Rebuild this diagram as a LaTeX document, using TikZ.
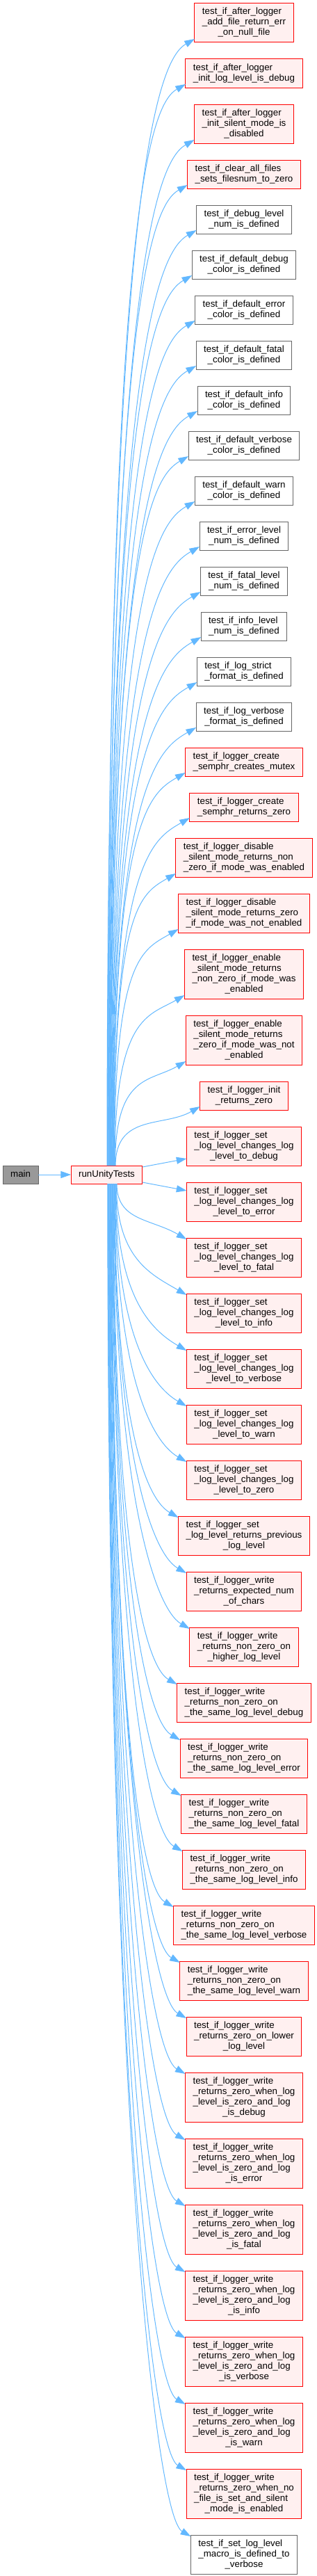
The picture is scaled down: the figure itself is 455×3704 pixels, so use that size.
\documentclass[tikz,border=0pt]{standalone}
\usepackage{fontspec}
\setmainfont{Liberation Sans}
\usepackage{xcolor}
\usetikzlibrary{arrows.meta,positioning,calc}
\definecolor{DoxyRed}{HTML}{FF0000}
\definecolor{DoxyPink}{HTML}{FFF0F0}
\definecolor{DoxyGray}{HTML}{666666}
\definecolor{DoxyMain}{HTML}{999999}
\definecolor{DoxyBlue}{HTML}{63B8FF}
% all lines left, the last one centred
\newcommand{\fnlabel}[2]{\begin{tabular}{@{}l@{}}#1\\\multicolumn{1}{@{}c@{}}{#2}\end{tabular}}

\begin{document}
\begin{tikzpicture}[
  x=0.75pt, y=0.75pt,
  node distance=18pt and 35.25pt,
  fn/.style={draw=DoxyRed, fill=DoxyPink, line width=0.75pt, inner xsep=8.25pt, inner ysep=4.125pt, outer sep=0pt, font=\fontsize{10}{11.25}\selectfont},
  fngray/.style={fn, draw=DoxyGray, fill=white},
  fnmain/.style={fn, draw=DoxyGray, fill=DoxyMain},
  call/.style={-{Triangle[length=11pt,width=7.5pt]}, draw=DoxyBlue, line width=0.75pt}
]
  \useasboundingbox (0,0) rectangle (455,-3704);
  % callees, top to bottom
  \node[fn, anchor=north] (t1) at (351,-5) {\fnlabel{test\_if\_after\_logger\\\_add\_file\_return\_err}{\_on\_null\_file}};
  \node[fn, below=of t1] (t2) {\fnlabel{test\_if\_after\_logger}{\_init\_log\_level\_is\_debug}};
  \node[fn, below=of t2] (t3) {\fnlabel{test\_if\_after\_logger\\\_init\_silent\_mode\_is}{\_disabled}};
  \node[fn, below=of t3] (t4) {\fnlabel{test\_if\_clear\_all\_files}{\_sets\_filesnum\_to\_zero}};
  \node[fngray, below=of t4] (t5) {\fnlabel{test\_if\_debug\_level}{\_num\_is\_defined}};
  \node[fngray, below=of t5] (t6) {\fnlabel{test\_if\_default\_debug}{\_color\_is\_defined}};
  \node[fngray, below=of t6] (t7) {\fnlabel{test\_if\_default\_error}{\_color\_is\_defined}};
  \node[fngray, below=of t7] (t8) {\fnlabel{test\_if\_default\_fatal}{\_color\_is\_defined}};
  \node[fngray, below=of t8] (t9) {\fnlabel{test\_if\_default\_info}{\_color\_is\_defined}};
  \node[fngray, below=of t9] (t10) {\fnlabel{test\_if\_default\_verbose}{\_color\_is\_defined}};
  \node[fngray, below=of t10] (t11) {\fnlabel{test\_if\_default\_warn}{\_color\_is\_defined}};
  \node[fngray, below=of t11] (t12) {\fnlabel{test\_if\_error\_level}{\_num\_is\_defined}};
  \node[fngray, below=of t12] (t13) {\fnlabel{test\_if\_fatal\_level}{\_num\_is\_defined}};
  \node[fngray, below=of t13] (t14) {\fnlabel{test\_if\_info\_level}{\_num\_is\_defined}};
  \node[fngray, below=of t14] (t15) {\fnlabel{test\_if\_log\_strict}{\_format\_is\_defined}};
  \node[fngray, below=of t15] (t16) {\fnlabel{test\_if\_log\_verbose}{\_format\_is\_defined}};
  \node[fn, below=of t16] (t17) {\fnlabel{test\_if\_logger\_create}{\_semphr\_creates\_mutex}};
  \node[fn, below=of t17] (t18) {\fnlabel{test\_if\_logger\_create}{\_semphr\_returns\_zero}};
  \node[fn, below=of t18] (t19) {\fnlabel{test\_if\_logger\_disable\\\_silent\_mode\_returns\_non}{\_zero\_if\_mode\_was\_enabled}};
  \node[fn, below=of t19] (t20) {\fnlabel{test\_if\_logger\_disable\\\_silent\_mode\_returns\_zero}{\_if\_mode\_was\_not\_enabled}};
  \node[fn, below=of t20] (t21) {\fnlabel{test\_if\_logger\_enable\\\_silent\_mode\_returns\\\_non\_zero\_if\_mode\_was}{\_enabled}};
  \node[fn, below=of t21] (t22) {\fnlabel{test\_if\_logger\_enable\\\_silent\_mode\_returns\\\_zero\_if\_mode\_was\_not}{\_enabled}};
  \node[fn, below=of t22] (t23) {\fnlabel{test\_if\_logger\_init}{\_returns\_zero}};
  \node[fn, below=of t23] (t24) {\fnlabel{test\_if\_logger\_set\\\_log\_level\_changes\_log}{\_level\_to\_debug}};
  \node[fn, below=of t24] (t25) {\fnlabel{test\_if\_logger\_set\\\_log\_level\_changes\_log}{\_level\_to\_error}};
  \node[fn, below=of t25] (t26) {\fnlabel{test\_if\_logger\_set\\\_log\_level\_changes\_log}{\_level\_to\_fatal}};
  \node[fn, below=of t26] (t27) {\fnlabel{test\_if\_logger\_set\\\_log\_level\_changes\_log}{\_level\_to\_info}};
  \node[fn, below=of t27] (t28) {\fnlabel{test\_if\_logger\_set\\\_log\_level\_changes\_log}{\_level\_to\_verbose}};
  \node[fn, below=of t28] (t29) {\fnlabel{test\_if\_logger\_set\\\_log\_level\_changes\_log}{\_level\_to\_warn}};
  \node[fn, below=of t29] (t30) {\fnlabel{test\_if\_logger\_set\\\_log\_level\_changes\_log}{\_level\_to\_zero}};
  \node[fn, below=of t30] (t31) {\fnlabel{test\_if\_logger\_set\\\_log\_level\_returns\_previous}{\_log\_level}};
  \node[fn, below=of t31] (t32) {\fnlabel{test\_if\_logger\_write\\\_returns\_expected\_num}{\_of\_chars}};
  \node[fn, below=of t32] (t33) {\fnlabel{test\_if\_logger\_write\\\_returns\_non\_zero\_on}{\_higher\_log\_level}};
  \node[fn, below=of t33] (t34) {\fnlabel{test\_if\_logger\_write\\\_returns\_non\_zero\_on}{\_the\_same\_log\_level\_debug}};
  \node[fn, below=of t34] (t35) {\fnlabel{test\_if\_logger\_write\\\_returns\_non\_zero\_on}{\_the\_same\_log\_level\_error}};
  \node[fn, below=of t35] (t36) {\fnlabel{test\_if\_logger\_write\\\_returns\_non\_zero\_on}{\_the\_same\_log\_level\_fatal}};
  \node[fn, below=of t36] (t37) {\fnlabel{test\_if\_logger\_write\\\_returns\_non\_zero\_on}{\_the\_same\_log\_level\_info}};
  \node[fn, below=of t37] (t38) {\fnlabel{test\_if\_logger\_write\\\_returns\_non\_zero\_on}{\_the\_same\_log\_level\_verbose}};
  \node[fn, below=of t38] (t39) {\fnlabel{test\_if\_logger\_write\\\_returns\_non\_zero\_on}{\_the\_same\_log\_level\_warn}};
  \node[fn, below=of t39] (t40) {\fnlabel{test\_if\_logger\_write\\\_returns\_zero\_on\_lower}{\_log\_level}};
  \node[fn, below=of t40] (t41) {\fnlabel{test\_if\_logger\_write\\\_returns\_zero\_when\_log\\\_level\_is\_zero\_and\_log}{\_is\_debug}};
  \node[fn, below=of t41] (t42) {\fnlabel{test\_if\_logger\_write\\\_returns\_zero\_when\_log\\\_level\_is\_zero\_and\_log}{\_is\_error}};
  \node[fn, below=of t42] (t43) {\fnlabel{test\_if\_logger\_write\\\_returns\_zero\_when\_log\\\_level\_is\_zero\_and\_log}{\_is\_fatal}};
  \node[fn, below=of t43] (t44) {\fnlabel{test\_if\_logger\_write\\\_returns\_zero\_when\_log\\\_level\_is\_zero\_and\_log}{\_is\_info}};
  \node[fn, below=of t44] (t45) {\fnlabel{test\_if\_logger\_write\\\_returns\_zero\_when\_log\\\_level\_is\_zero\_and\_log}{\_is\_verbose}};
  \node[fn, below=of t45] (t46) {\fnlabel{test\_if\_logger\_write\\\_returns\_zero\_when\_log\\\_level\_is\_zero\_and\_log}{\_is\_warn}};
  \node[fn, below=of t46] (t47) {\fnlabel{test\_if\_logger\_write\\\_returns\_zero\_when\_no\\\_file\_is\_set\_and\_silent}{\_mode\_is\_enabled}};
  \node[fngray, below=of t47] (t48) {\fnlabel{test\_if\_set\_log\_level\\\_macro\_is\_defined\_to}{\_verbose}};
  % callers
  \node[fn] (run) at (153.5,-1689) {\strut runUnityTests};
  \node[fnmain, left=35.25pt of run] (main) {\strut main};
  \draw[call] (main) -- (run);
  \draw[call] ([yshift=8.25pt]run.east) -- ([yshift=7.5pt]t24.south west);
  \draw[call] ([yshift=-8.25pt]run.east) -- ([yshift=-9pt]t25.north west);
  \foreach \i in {1,...,23}
    \draw[call] let \p1=([xshift={(0.5+0.55*(\i-1))*0.75pt}]run.north), \p2=([yshift=3.75pt]t\i.south west) in
      (\p1) .. controls (\x1,{\y1+0.88*(\y2-\y1)}) and (\x2-39pt,\y2-22.5pt) .. (\p2);
  \foreach \i in {26,...,48}
    \draw[call] let \p1=([xshift={(14.5-0.6*(\i-26))*0.75pt}]run.south), \p2=([yshift=-1.5pt]t\i.north west) in
      (\p1) .. controls (\x1,{\y1+0.67*(\y2-\y1)}) and (\x2-39pt,\y2+22.5pt) .. (\p2);
\end{tikzpicture}
\end{document}
